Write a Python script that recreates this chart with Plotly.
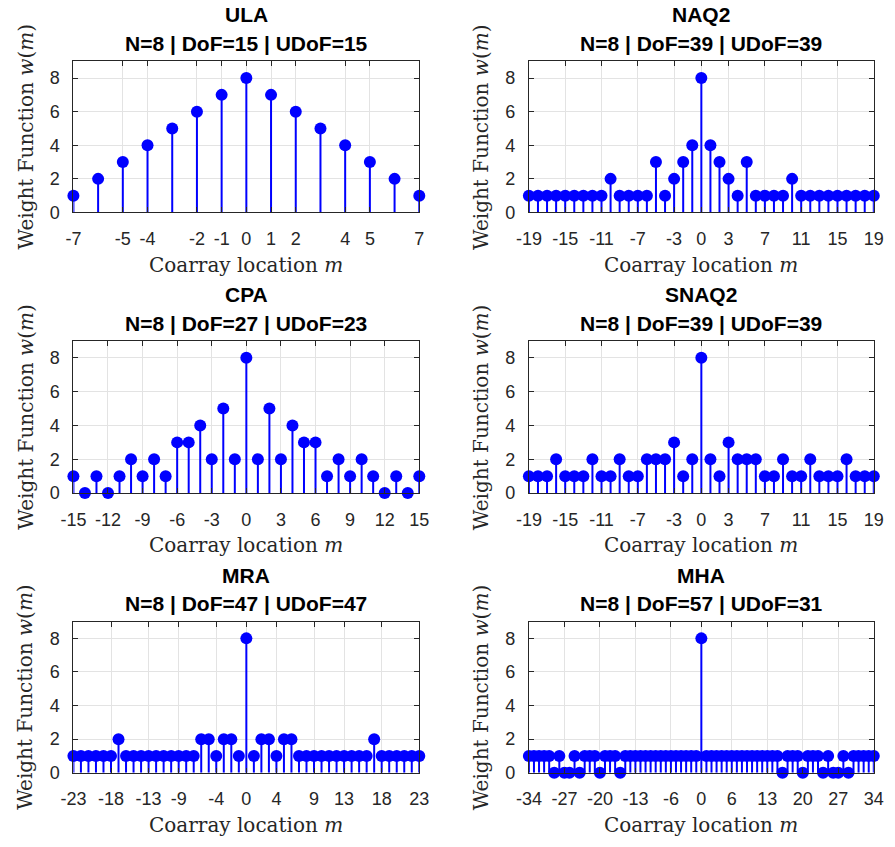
import plotly.graph_objects as go
from plotly.subplots import make_subplots

# ---------------- data ----------------
names = ["ULA", "NAQ2", "CPA", "SNAQ2", "MRA", "MHA"]
subtitles = [
    "N=8 | DoF=15 | UDoF=15",
    "N=8 | DoF=39 | UDoF=39",
    "N=8 | DoF=27 | UDoF=23",
    "N=8 | DoF=39 | UDoF=39",
    "N=8 | DoF=47 | UDoF=47",
    "N=8 | DoF=57 | UDoF=31",
]

w_ula = [1, 2, 3, 4, 5, 6, 7, 8, 7, 6, 5, 4, 3, 2, 1]
w_naq2 = [1, 1, 1, 1, 1, 1, 1, 1, 1, 2, 1, 1, 1, 1, 3, 1, 2, 3, 4,
          8,
          4, 3, 2, 1, 3, 1, 1, 1, 1, 2, 1, 1, 1, 1, 1, 1, 1, 1, 1]
w_cpa = [1, 0, 1, 0, 1, 2, 1, 2, 1, 3, 3, 4, 2, 5, 2,
         8,
         2, 5, 2, 4, 3, 3, 1, 2, 1, 2, 1, 0, 1, 0, 1]
w_snaq2 = [1, 1, 1, 2, 1, 1, 1, 2, 1, 1, 2, 1, 1, 2, 2, 2, 3, 1, 2,
           8,
           2, 1, 3, 2, 2, 2, 1, 1, 2, 1, 1, 2, 1, 1, 1, 2, 1, 1, 1]
w_mra = [1, 1, 1, 1, 1, 1, 2, 1, 1, 1, 1, 1, 1, 1, 1, 1, 1, 2, 2, 1, 2, 2, 1,
         8,
         1, 2, 2, 1, 2, 2, 1, 1, 1, 1, 1, 1, 1, 1, 1, 1, 2, 1, 1, 1, 1, 1, 1]
w_mha = [1, 1, 1, 1, 1, 0, 1, 0, 0, 1, 0, 1, 1, 1, 0, 1, 1, 1, 0,
         1, 1, 1, 1, 1, 1, 1, 1, 1, 1, 1, 1, 1, 1, 1,
         8,
         1, 1, 1, 1, 1, 1, 1, 1, 1, 1, 1, 1, 1, 1, 1,
         0, 1, 1, 1, 0, 1, 1, 1, 0, 1, 0, 0, 1, 0, 1, 1, 1, 1, 1]
weights = [w_ula, w_naq2, w_cpa, w_snaq2, w_mra, w_mha]

ticks_ula = [-7, -5, -4, -2, -1, 0, 1, 2, 4, 5, 7]
ticks_naq2 = [-19, -15, -11, -7, -3, 0, 3, 7, 11, 15, 19]
ticks_cpa = [-15, -12, -9, -6, -3, 0, 3, 6, 9, 12, 15]
ticks_snaq2 = [-19, -15, -11, -7, -3, 0, 3, 7, 11, 15, 19]
ticks_mra = [-23, -18, -13, -9, -4, 0, 4, 9, 13, 18, 23]
ticks_mha = [-34, -27, -20, -13, -6, 0, 6, 13, 20, 27, 34]
xticks = [ticks_ula, ticks_naq2, ticks_cpa, ticks_snaq2, ticks_mra, ticks_mha]
yticks = [0, 2, 4, 6, 8]

# ---------------- layout geometry (pixels) ----------------
W, H = 895, 847
col_px = [(62, 417), (529.5, 883.5)]
row_px = [(62, 215), (345, 499), (629, 782)]

def px_x(p):
    return p / W

def px_y(p):
    return 1 - p / H

fig = make_subplots(rows=3, cols=2)

BLUE = "#0000ff"
AX = "#262626"
GRID = "#e3e3e3"
TICKFONT = dict(family="Liberation Sans, Arial, sans-serif", size=18, color=AX)
SERIF = "DejaVu Serif, serif"

annotations = []
for i, (name, sub, w, xt) in enumerate(zip(names, subtitles, weights, xticks)):
    r, c = i // 2, i % 2
    L = (len(w) - 1) // 2
    m = list(range(-L, L + 1))
    xs, ys = [], []
    for mi, wi in zip(m, w):
        xs += [mi, mi, None]
        ys += [0, wi, None]
    fig.add_trace(go.Scatter(x=xs, y=ys, mode="lines",
                             line=dict(color=BLUE, width=2),
                             cliponaxis=False, hoverinfo="skip"),
                  row=r + 1, col=c + 1)
    fig.add_trace(go.Scatter(x=m, y=w, mode="markers",
                             marker=dict(color=BLUE, size=12, line=dict(width=0)),
                             cliponaxis=False),
                  row=r + 1, col=c + 1)
    x0, x1 = col_px[c]
    y0, y1 = row_px[r]
    fig.update_xaxes(domain=[px_x(x0), px_x(x1)], range=[-L, L],
                     tickmode="array", tickvals=xt, ticktext=[str(t) for t in xt],
                     ticks="inside", ticklen=5, tickcolor=AX, tickwidth=1,
                     showline=True, linecolor=AX, linewidth=1, mirror="ticks",
                     showgrid=True, gridcolor=GRID, gridwidth=1, zeroline=False,
                     tickfont=TICKFONT, ticklabelstandoff=10,
                     row=r + 1, col=c + 1)
    fig.update_yaxes(domain=[px_y(y1), px_y(y0)], range=[0, 9],
                     tickmode="array", tickvals=yticks,
                     ticks="inside", ticklen=5, tickcolor=AX, tickwidth=1,
                     showline=True, linecolor=AX, linewidth=1, mirror="ticks",
                     showgrid=True, gridcolor=GRID, gridwidth=1, zeroline=False,
                     tickfont=TICKFONT, ticklabelstandoff=9,
                     row=r + 1, col=c + 1)
    cx = (x0 + x1) / 2
    cy = (y0 + y1) / 2
    # titles
    annotations.append(dict(text="<b>%s</b>" % name, x=px_x(cx), y=px_y(y0 - 47),
                            xref="paper", yref="paper", xanchor="center", yanchor="middle",
                            showarrow=False,
                            font=dict(family="Liberation Sans, Arial, sans-serif", size=21, color="#000000")))
    annotations.append(dict(text="<b>%s</b>" % sub, x=px_x(cx), y=px_y(y0 - 18),
                            xref="paper", yref="paper", xanchor="center", yanchor="middle",
                            showarrow=False,
                            font=dict(family="Liberation Sans, Arial, sans-serif", size=21, color="#000000")))
    # x label
    annotations.append(dict(text="Coarray location <i>m</i>", x=px_x(cx), y=px_y(y1 + 53),
                            xref="paper", yref="paper", xanchor="center", yanchor="middle",
                            showarrow=False,
                            font=dict(family=SERIF, size=20, color=AX)))
    # y label
    annotations.append(dict(text="Weight Function <i>w</i>(<i>m</i>)", x=px_x(x0 - 49), y=px_y(cy),
                            xref="paper", yref="paper", xanchor="center", yanchor="middle",
                            textangle=-90, showarrow=False,
                            font=dict(family=SERIF, size=20, color=AX)))

fig.update_layout(width=W, height=H, margin=dict(l=0, r=0, t=0, b=0),
                  paper_bgcolor="white", plot_bgcolor="white",
                  showlegend=False, annotations=annotations)

fig.write_html("out.html", config={"displayModeBar": False},
               post_script="document.body.style.margin='0';document.body.style.overflow='hidden';")
